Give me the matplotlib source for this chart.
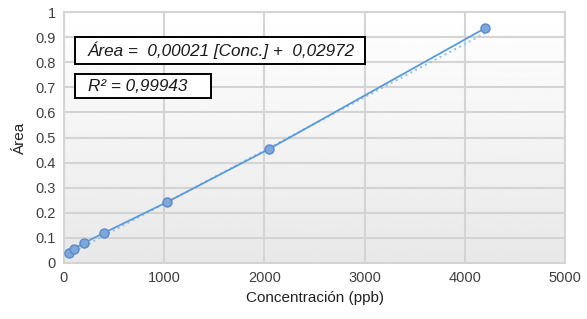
import numpy as np
import matplotlib.pyplot as plt
from matplotlib.patches import Rectangle

conc = [50, 100, 200, 400, 1025, 2050, 4200]
area = [0.040, 0.056, 0.080, 0.120, 0.242, 0.455, 0.935]

trend_x = [50, 4200]
trend_y = [0.035, 0.915]

x_ticks = [0, 1000, 2000, 3000, 4000, 5000]
y_ticks = [0, 0.1, 0.2, 0.3, 0.4, 0.5, 0.6, 0.7, 0.8, 0.9, 1]
y_labels = ['0', '0.1', '0.2', '0.3', '0.4', '0.5', '0.6', '0.7', '0.8', '0.9', '1']

eq_text = 'Área =  0,00021 [Conc.] +  0,02972'
r2_text = 'R² = 0,99943'

plt.rcParams['font.family'] = ['Liberation Sans', 'DejaVu Sans']

W, H = 587, 319
fig = plt.figure(figsize=(W / 100, H / 100), dpi=100)
ax = fig.add_axes([64 / W, 1 - 263 / H, 501 / W, 251 / H])

# background gradient of the plot area
grad = np.linspace(1.0, 0.91, 256).reshape(-1, 1)
ax.imshow(grad, cmap='gray', vmin=0, vmax=1, aspect='auto',
          extent=[0, 1, 0, 1], transform=ax.transAxes, zorder=0)

ax.set_xlim(0, 5000)
ax.set_ylim(0, 1)
ax.set_xticks(x_ticks)
ax.set_yticks(y_ticks)
ax.set_yticklabels(y_labels)
ax.grid(True, color='#d4d4d4', lw=1.5, zorder=1)
ax.set_axisbelow(True)
for s in ax.spines.values():
    s.set_color('#d4d4d4')
    s.set_linewidth(1.5)
ax.tick_params(length=0, labelsize=10.5, colors='#404040', pad=6)

ax.plot(trend_x, trend_y, ls=':', color='#9dc3e6', lw=1.5, zorder=2)
ax.plot(conc, area, color='#5b9bd5', lw=1.3, marker='o', ms=6.5,
        mfc='#7fa7da', mec='#5b8ac7', mew=1, zorder=3)

ax.set_xlabel('Concentración (ppb)', fontsize=11, color='#222222', labelpad=4)
ax.set_ylabel('Área', fontsize=11, color='#222222', labelpad=6)

# text boxes placed in figure pixels
def box(x0, y0, x1, y1):
    fig.patches.append(Rectangle((x0 / W, 1 - y1 / H), (x1 - x0) / W, (y1 - y0) / H,
                                 transform=fig.transFigure, fc='white', ec='black',
                                 lw=1.4, zorder=5))

box(75, 37, 365, 64)
box(75, 74, 211, 98)
fig.text(88 / W, 1 - 50.5 / H, eq_text, fontsize=12.3, style='italic',
         color='#1a1a1a', va='center', ha='left', zorder=6)
fig.text(88 / W, 1 - 86 / H, r2_text, fontsize=12.3, style='italic',
         color='#1a1a1a', va='center', ha='left', zorder=6)

fig.savefig('out.png', dpi=100)
